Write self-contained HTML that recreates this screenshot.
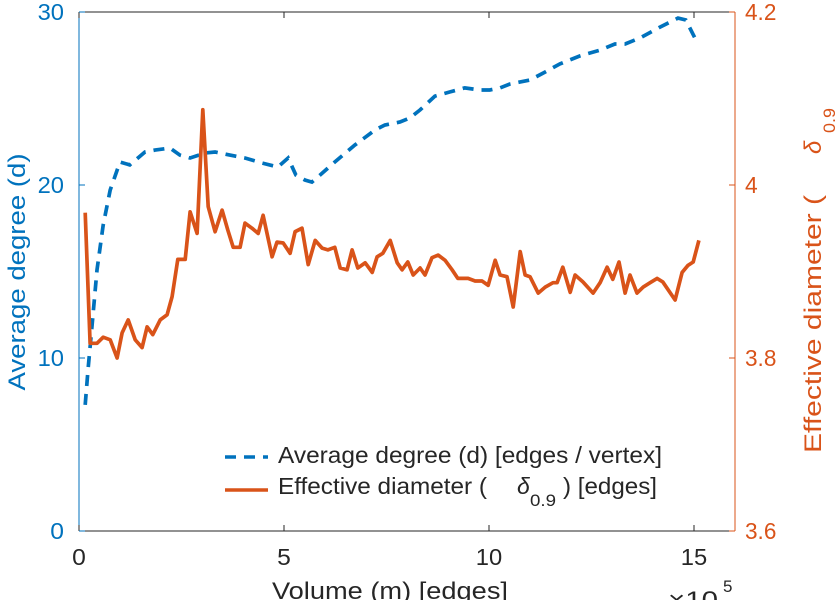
<!DOCTYPE html>
<html><head><meta charset="utf-8"><style>
html,body{margin:0;padding:0;background:#fff;}
svg{display:block;font-family:"Liberation Sans",sans-serif;}
</style></head><body>
<svg id="chart" width="838" height="600" viewBox="0 0 838 600" xmlns="http://www.w3.org/2000/svg">
<g id="axes"></g>
<g id="series"></g>
<g id="legend">
  <line x1="225" y1="457" x2="268" y2="457" stroke="#0072BD" stroke-width="3.5" stroke-dasharray="11,8"/>
  <text x="278" y="463" font-size="23" fill="#262626" textLength="384" lengthAdjust="spacingAndGlyphs">Average degree (d) [edges / vertex]</text>
  <line x1="225" y1="490" x2="268" y2="490" stroke="#D95319" stroke-width="3.5"/>
  <text x="278" y="494" font-size="23" fill="#262626" textLength="209" lengthAdjust="spacingAndGlyphs">Effective diameter (</text>
  <text x="517" y="494" font-size="23" font-style="italic" fill="#262626">δ</text>
  <text x="530" y="506" font-size="17" fill="#262626" textLength="26" lengthAdjust="spacingAndGlyphs">0.9</text>
  <text x="563" y="494" font-size="23" fill="#262626" textLength="94" lengthAdjust="spacingAndGlyphs">) [edges]</text>
</g>
</svg>
<script>
const degreeVolume = [0.15,0.22,0.32,0.44,0.59,0.76,1.00,1.24,1.61,1.85,2.22,2.46,2.71,3.07,3.32,3.68,4.05,4.46,4.85,5.10,5.29,5.51,5.68,5.88,6.24,6.73,7.22,7.46,7.83,8.07,8.32,8.68,9.05,9.41,9.78,10.02,10.27,10.51,11.00,11.37,11.73,12.22,12.71,13.07,13.32,13.68,14.17,14.61,14.80,15.07];
const degreeValues = [7.29,9.31,11.91,15.09,17.69,19.71,21.33,21.16,21.91,22.02,22.14,21.73,21.56,21.85,21.91,21.73,21.56,21.27,21.04,21.56,20.58,20.29,20.17,20.58,21.33,22.31,23.18,23.47,23.64,23.87,24.34,25.14,25.38,25.61,25.49,25.49,25.61,25.84,26.07,26.53,27.0,27.46,27.80,28.15,28.15,28.5,29.13,29.65,29.54,28.27];
const diamVolume = [0.15,0.27,0.44,0.59,0.76,0.93,1.05,1.20,1.37,1.54,1.66,1.80,1.98,2.15,2.27,2.41,2.59,2.71,2.88,3.02,3.15,3.32,3.49,3.63,3.76,3.93,4.05,4.22,4.37,4.49,4.71,4.83,4.98,5.15,5.27,5.44,5.59,5.76,5.93,6.07,6.24,6.37,6.54,6.66,6.80,6.98,7.15,7.27,7.41,7.59,7.76,7.88,8.02,8.15,8.32,8.44,8.61,8.76,8.93,9.10,9.24,9.49,9.66,9.83,9.98,10.15,10.27,10.44,10.59,10.76,10.88,11.00,11.20,11.37,11.56,11.66,11.80,11.98,12.10,12.29,12.54,12.71,12.88,13.02,13.17,13.32,13.44,13.61,13.76,13.93,14.10,14.24,14.54,14.71,14.85,14.98,15.12];
const diamValues = [3.968,3.817,3.817,3.824,3.821,3.800,3.829,3.844,3.821,3.812,3.836,3.827,3.844,3.850,3.871,3.914,3.914,3.969,3.944,4.087,3.975,3.946,3.971,3.948,3.928,3.928,3.956,3.950,3.944,3.965,3.917,3.934,3.933,3.921,3.946,3.950,3.908,3.936,3.927,3.925,3.928,3.904,3.902,3.925,3.904,3.910,3.899,3.917,3.921,3.936,3.910,3.902,3.911,3.896,3.904,3.896,3.916,3.919,3.913,3.902,3.892,3.892,3.889,3.889,3.884,3.913,3.896,3.894,3.859,3.923,3.896,3.894,3.875,3.882,3.887,3.887,3.905,3.876,3.896,3.888,3.875,3.887,3.905,3.891,3.911,3.875,3.896,3.875,3.882,3.887,3.892,3.888,3.867,3.899,3.907,3.911,3.936];
const xTicks = [0,5,10,15];
const leftTicks = [0,10,20,30];
const rightTicks = [3.6,3.8,4,4.2];
const rightTickLabels = ["3.6","3.8","4","4.2"];

const L=79,R=735,T=12,B=531;
const xS=v=>L+(v/16)*(R-L);
const yL=v=>B-(v/30)*(B-T);
const yR=v=>B-((v-3.6)/0.6)*(B-T);
const NS="http://www.w3.org/2000/svg";
function mk(tag,attrs,parent,text){const e=document.createElementNS(NS,tag);for(const k in attrs)e.setAttribute(k,attrs[k]);if(text!==undefined)e.textContent=text;parent.appendChild(e);return e;}
const ax=document.getElementById('axes'), se=document.getElementById('series');
const charW=12.7;

let e;
e=mk('line',{x1:L,y1:T,x2:R,y2:T,stroke:'#262626','stroke-width':1},ax);


e=mk('line',{x1:L,y1:B,x2:R,y2:B,stroke:'#262626','stroke-width':1},ax);


e=mk('line',{x1:L,y1:T,x2:L,y2:B,stroke:'#0072BD','stroke-width':1},ax);


e=mk('line',{x1:R,y1:T,x2:R,y2:B,stroke:'#D95319','stroke-width':1},ax);



xTicks.forEach(t=>{
  const x=xS(t);
  const s=String(t);
  mk('line',{x1:x,y1:B,x2:x,y2:B-6,stroke:'#262626'},ax);
  mk('line',{x1:x,y1:T,x2:x,y2:T+6,stroke:'#262626'},ax);
  const tx=mk('text',{x:x,y:565,'font-size':23,fill:'#262626','text-anchor':'middle',textLength:s.length*charW+1,lengthAdjust:'spacingAndGlyphs'},ax,s);
  
  
});
leftTicks.forEach(t=>{
  const y=yL(t);
  const s=String(t);
  mk('line',{x1:L,y1:y,x2:L+6,y2:y,stroke:'#0072BD'},ax);
  const tx=mk('text',{x:L-15,y:y+8,'font-size':23,fill:'#0072BD','text-anchor':'end',textLength:s.length*charW+1,lengthAdjust:'spacingAndGlyphs'},ax,s);
  
  
});
rightTicks.forEach((t,i)=>{
  const y=yR(t);
  const s=rightTickLabels[i];
  mk('line',{x1:R,y1:y,x2:R-6,y2:y,stroke:'#D95319'},ax);
  const tx=mk('text',{x:R+10,y:y+8,'font-size':23,fill:'#D95319',textLength:s.replace('.','').length*charW+(s.includes('.')?6:0),lengthAdjust:'spacingAndGlyphs'},ax,s);
  
  
});
e=mk('text',{x:272,y:599,'font-size':24,fill:'#262626',textLength:236,lengthAdjust:'spacingAndGlyphs'},ax,'Volume (m) [edges]');


e=mk('text',{x:668,y:608,'font-size':24,fill:'#262626',textLength:50,lengthAdjust:'spacingAndGlyphs'},ax,'×10');


mk('text',{x:723,y:592,'font-size':17,fill:'#262626'},ax,'5');
e=mk('text',{x:0,y:0,'font-size':24,fill:'#0072BD','text-anchor':'middle',textLength:237,lengthAdjust:'spacingAndGlyphs',transform:'translate(25,272) rotate(-90)'},ax,'Average degree (d)');


e=mk('text',{x:0,y:0,'font-size':24,fill:'#D95319',textLength:258,lengthAdjust:'spacingAndGlyphs',transform:'translate(821,453) rotate(-90)'},ax,'Effective diameter (');


mk('text',{x:0,y:0,'font-size':24,'font-style':'italic',fill:'#D95319',transform:'translate(821,154) rotate(-90)'},ax,'δ');
mk('text',{x:0,y:0,'font-size':17,fill:'#D95319',textLength:25,lengthAdjust:'spacingAndGlyphs',transform:'translate(835,133) rotate(-90)'},ax,'0.9');

const dPts=degreeVolume.map((v,i)=>xS(v).toFixed(1)+','+yL(degreeValues[i]).toFixed(1)).join(' ');
e=mk('polyline',{points:dPts,fill:'none',stroke:'#0072BD','stroke-width':3.7,'stroke-dasharray':'11,8'},se);


const oPts=diamVolume.map((v,i)=>xS(v).toFixed(1)+','+yR(diamValues[i]).toFixed(1)).join(' ');
e=mk('polyline',{points:oPts,fill:'none',stroke:'#D95319','stroke-width':3.7,'stroke-linejoin':'round'},se);


</script>
</body></html>
